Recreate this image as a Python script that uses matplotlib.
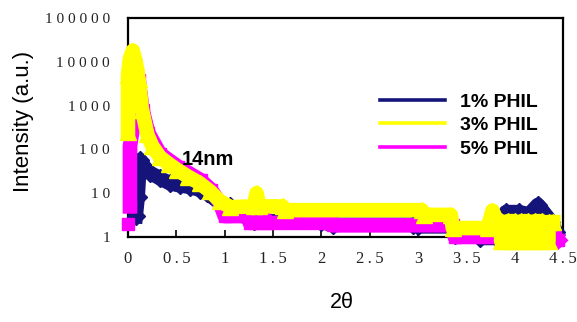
import numpy as np
import matplotlib
matplotlib.use("Agg")
import matplotlib.pyplot as plt
from matplotlib.lines import Line2D

nan = np.nan

# 1% PHIL (navy, diamonds)
x1 = [0.08, 0.10, 0.115, 0.125, 0.18, 0.23, 0.33, 0.43, 0.54, 0.64, 0.74, 0.82, 0.95, 1.05,
      1.3, 2.0, 2.12, 2.95, 3.0, 3.35, 3.38, 3.62, 3.64, 3.82, 3.91, 4.04, 4.15, 4.24, 4.38, 4.43]
y1 = [3, 8, 30, 57, 37, 29, 22, 17, 15, 14, 12, 10, 6, 5,
      2.3, 2.2, 1.9, 1.9, 1.75, 1.75, 1.1, 1.1, 0.95, 0.95, 3.7, 3.7, 3.3, 5.4, 2.2, 1.3]

# 3% PHIL (yellow, triangles)
x3 = [0.0, 0.0, 0.02, 0.05, 0.08, 0.11, 0.145, 0.2, 0.25, 0.33, 0.42, 0.51, 0.62, 0.74, 0.85,
      0.95, 1.06, 1.3, 1.33, 1.36, 1.6, 1.62, 3.04, 3.06, 3.34, 3.36, 3.72, 3.77, 3.82,
      3.86, 3.86, 3.93, 3.93, 4.0, 4.0, 4.07, 4.07, 4.14, 4.14, 4.21, 4.21, 4.28, 4.28,
      4.35, 4.35, 4.4]
y3 = [250, 5000, 12000, 18000, 10000, 4000, 800, 220, 120, 67, 47, 34, 24, 17, 11,
      6.6, 4.8, 5.0, 10, 5.0, 5.0, 4.1, 4.1, 3.2, 3.2, 1.6, 1.6, 4.0, 2.3,
      2.3, 0.8, 0.8, 2.3, 2.3, 0.8, 0.8, 2.3, 2.3, 0.8, 0.8, 2.3, 2.3, 0.8,
      0.8, 2.2, 2.2]

# 5% PHIL (magenta, squares)
x5 = [0.0, nan, 0.02, 0.02, 0.06, 0.07, 0.11, 0.15, 0.21, 0.33, 0.52, 0.75, 0.86, 0.95, 1.0,
      1.24, 1.26, 1.38, 1.41, 1.45, 2.1, 2.12, 3.36, 3.38, 3.85, 4.42, 4.45]
y5 = [2.0, nan, 5, 120, 400, 9000, 3800, 800, 240, 80, 40, 20, 12, 6, 3.0,
      3.0, 2.1, 2.1, 2.7, 2.1, 2.1, 1.85, 1.85, 1.0, 1.0, 1.0, 0.85]

series_labels = ["1% PHIL", "3% PHIL", "5% PHIL"]
colors = ["#14147a", "#ffff00", "#ff00ff"]

T = "\u2009"
yticks = [1, 10, 100, 1000, 10000, 100000]
ytick_labels = ["1", "1 0", "1 0 0", "1 0 0 0", "1 0 0 0 0", "1 0 0 0 0 0"]
xticks = [0, 0.5, 1, 1.5, 2, 2.5, 3, 3.5, 4, 4.5]
xtick_labels = ["0", f"0{T}.{T}5", "1", f"1{T}.{T}5", "2", f"2{T}.{T}5", "3",
                f"3{T}.{T}5", "4", f"4{T}.{T}5"]

W, H = 577, 322
fig = plt.figure(figsize=(W / 100, H / 100), dpi=100)
ax = fig.add_axes([128 / W, 1 - 237 / H, (563 - 128) / W, (237 - 18) / H])

lw = 10.5
ms = 9
ax.plot(x1, y1, color=colors[0], lw=lw, marker="D", ms=ms, zorder=2, clip_on=False,
        solid_joinstyle="round")
ax.plot(x5, y5, color=colors[2], lw=lw, marker="s", ms=ms, zorder=3, clip_on=False,
        solid_joinstyle="round")
ax.plot(x3, y3, color=colors[1], lw=lw, marker="^", ms=ms + 2, zorder=4, clip_on=False,
        solid_joinstyle="round")

ax.set_yscale("log")
ax.set_xlim(0, 4.5)
ax.set_ylim(1, 100000)
ax.set_yticks(yticks)
ax.set_yticklabels(ytick_labels)
ax.minorticks_off()
ax.set_xticks(xticks)
ax.set_xticklabels(xtick_labels)

serif = ["Liberation Serif", "DejaVu Serif"]
for lab in ax.get_yticklabels():
    lab.set_family(serif)
    lab.set_fontsize(11)
    lab.set_color("#222222")
for lab in ax.get_xticklabels():
    lab.set_family(serif)
    lab.set_fontsize(12)
    lab.set_color("#222222")

ax.tick_params(axis="x", direction="in", length=5, width=1.2, pad=10)
ax.tick_params(axis="y", direction="in", length=4, width=1.2, pad=13)
for sp in ax.spines.values():
    sp.set_linewidth(1.6)
    sp.set_color("black")
    sp.set_zorder(1)

ax.set_ylabel("Intensity (a.u.)", family="Liberation Sans", fontsize=16)
ax.yaxis.set_label_coords((23 - 128) / (563 - 128), (237 - 121) / 219)
ax.yaxis.label.set_va("center")
ax.set_xlabel("2θ", family="Liberation Sans", fontsize=15.5)
ax.xaxis.set_label_coords((342 - 128) / (563 - 128), -(302 - 237) / 219)
ax.xaxis.label.set_va("center")

ax.text(0.83, 60, "14nm", family="Liberation Sans", fontweight="bold", fontsize=14.5,
        ha="center", va="center", zorder=6)

handles = [Line2D([0], [0], color=c, lw=2.6) for c in colors]
leg = ax.legend(handles, series_labels, loc="upper left",
                bbox_to_anchor=(380 / W, 1 - 93 / H), bbox_transform=fig.transFigure,
                frameon=False, borderpad=0, borderaxespad=0,
                handlelength=3.35, handletextpad=0.75, labelspacing=0.3,
                prop={"family": "Liberation Sans", "weight": "bold", "size": 14})
leg.set_zorder(7)

fig.savefig("out.png", dpi=100)
